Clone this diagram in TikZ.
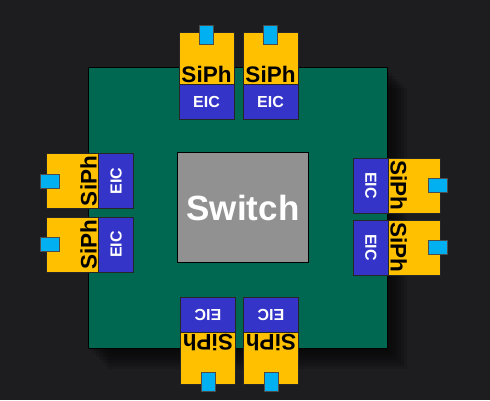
\documentclass[tikz,border=0pt]{standalone}
\usepackage{fontspec}
\setmainfont{Liberation Sans}
\usepackage{tikz}
\usetikzlibrary{calc}

\definecolor{bgdark}{RGB}{29,29,31}
\definecolor{boardgreen}{RGB}{0,104,80}
\definecolor{switchgray}{RGB}{145,145,145}
\definecolor{siphyellow}{RGB}{255,192,0}
\definecolor{eicblue}{RGB}{52,52,200}
\definecolor{fibercyan}{RGB}{0,176,240}

% one optical engine: name, x, y of inner edge centre, rotation
\newcommand{\engine}[4]{%
  \begin{scope}[shift={(#2,#3)}, rotate=#4, transform shape]
    \node[siph, anchor=south] (#1s) at (0,35) {};
    \node[eic, anchor=south] (#1e) at (0,0) {EIC};
    \node[fiber, anchor=south] (#1f) at (0,75) {};
    \node[siphlabel, anchor=base] (#1t) at (0,37.5) {SiPh};
  \end{scope}}

\begin{document}
\begin{tikzpicture}[x=1pt, y=1pt,
    siph/.style={rectangle, draw=black!85, line width=0.7pt, fill=siphyellow,
      minimum width=55pt, minimum height=52pt, inner sep=0pt},
    eic/.style={rectangle, draw=black!85, line width=0.7pt, fill=eicblue,
      minimum width=55pt, minimum height=35pt, inner sep=0pt,
      text=white, font=\bfseries\fontsize{16}{16}\selectfont},
    fiber/.style={rectangle, draw=black!70, line width=0.5pt, fill=fibercyan,
      minimum width=14pt, minimum height=19pt, inner sep=0pt},
    siphlabel/.style={inner sep=0pt, text=black,
      font=\bfseries\fontsize{22.5}{22.5}\selectfont}
    ]
    \useasboundingbox (0,0) rectangle (490,400);
    \fill[bgdark] (0,0) rectangle (490,400);

    % board with soft shadow
    \foreach \d in {20,17,14,11,8,5,2}
      \fill[black, opacity=0.12] (88+\d,51-\d) rectangle (387+\d,332-\d);
    \node[rectangle, draw=black, line width=1pt, fill=boardgreen,
      minimum width=299pt, minimum height=281pt, inner sep=0pt,
      anchor=south west] (board) at (88,51) {};

    \node[rectangle, draw=black, line width=1pt, fill=switchgray,
      minimum width=131pt, minimum height=110pt, inner sep=0pt,
      text=white, font=\bfseries\fontsize{35}{35}\selectfont,
      anchor=north west] (switch) at (177,248) {Switch};

    % top
    \engine{ta}{206.5}{280}{0}
    \engine{tb}{270.5}{280}{0}
    % left
    \engine{la}{134}{219}{90}
    \engine{lb}{134}{155.5}{90}
    % right
    \engine{ra}{353}{214.5}{-90}
    \engine{rb}{353}{152.5}{-90}
    % bottom
    \engine{ba}{208}{103}{180}
    \engine{bb}{271}{103}{180}
  \end{tikzpicture}
\end{document}
